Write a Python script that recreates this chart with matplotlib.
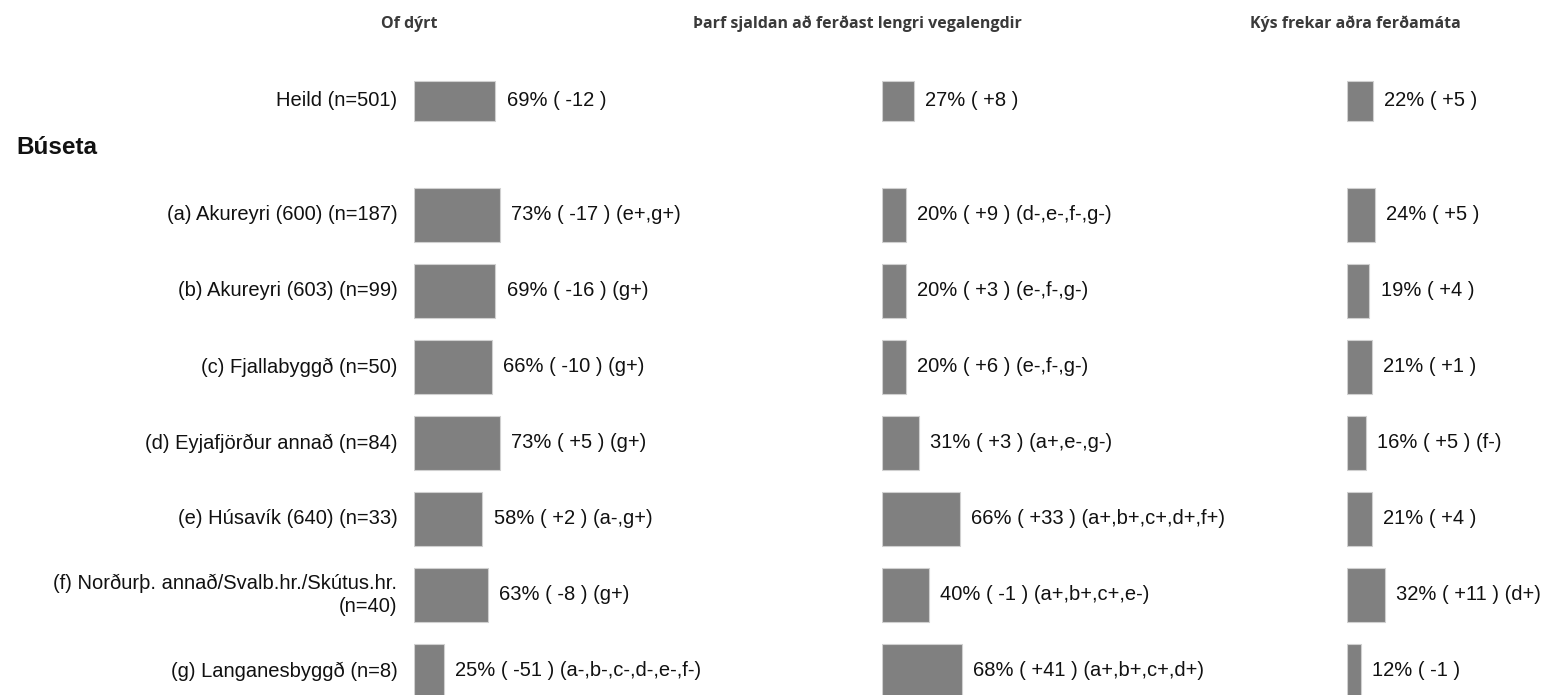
import matplotlib
matplotlib.use('Agg')
import matplotlib.pyplot as plt

plt.rcParams['font.family'] = ['Liberation Sans', 'DejaVu Sans']

# data
row_labels = ['Heild (n=501)',
              '(a) Akureyri (600) (n=187)',
              '(b) Akureyri (603) (n=99)',
              '(c) Fjallabyggð (n=50)',
              '(d) Eyjafjörður annað (n=84)',
              '(e) Húsavík (640) (n=33)',
              '(f) Norðurþ. annað/Svalb.hr./Skútus.hr.\n(n=40)',
              '(g) Langanesbyggð (n=8)']
group_title = 'Búseta'
panel_titles = ['Of dýrt',
                'Þarf sjaldan að ferðast lengri vegalengdir',
                'Kýs frekar aðra ferðamáta']

pct_dyrt = [69, 73, 69, 66, 73, 58, 63, 25]
chg_dyrt = [-12, -17, -16, -10, 5, 2, -8, -51]
sig_dyrt = ['', 'e+,g+', 'g+', 'g+', 'g+', 'a-,g+', 'g+', 'a-,b-,c-,d-,e-,f-']

pct_sjaldan = [27, 20, 20, 20, 31, 66, 40, 68]
chg_sjaldan = [8, 9, 3, 6, 3, 33, -1, 41]
sig_sjaldan = ['', 'd-,e-,f-,g-', 'e-,f-,g-', 'e-,f-,g-', 'a+,e-,g-',
               'a+,b+,c+,d+,f+', 'a+,b+,c+,e-', 'a+,b+,c+,d+']

pct_annad = [22, 24, 19, 21, 16, 21, 32, 12]
chg_annad = [5, 5, 4, 1, 5, 4, 11, -1]
sig_annad = ['', '', '', '', 'f-', '', 'd+', '']

panels = [(pct_dyrt, chg_dyrt, sig_dyrt),
          (pct_sjaldan, chg_sjaldan, sig_sjaldan),
          (pct_annad, chg_annad, sig_annad)]

# row positions: Heild sits above the group
ypos = [-1.5, 0, 1, 2, 3, 4, 5, 6]
heights = [0.53] + [0.71] * 7

W, H = 1542, 695
fig = plt.figure(figsize=(W / 100, H / 100), dpi=100)

# layout (pixels)
bar_left = [414, 882, 1347]
px_per_pct = 1.18
row0_px = 215      # centre of row (a)
row_step = 76
top_px = 63
ymin_val = (top_px - row0_px) / row_step
ymax_val = (H - row0_px) / row_step
title_x = [409, 857, 1355]


def fmt(p, c, s):
    t = '%d%% ( %+d )' % (p, c)
    if s:
        t += ' (%s)' % s
    return t


axes = []
for i, (pcts, chgs, sigs) in enumerate(panels):
    ax = fig.add_axes([bar_left[i] / W, 0, 100 * px_per_pct / W, (H - top_px) / H])
    ax.set_xlim(0, 100)
    ax.set_ylim(ymax_val, ymin_val)
    ax.barh(ypos, pcts, height=heights, color='#808080',
            edgecolor='#d0d0d0', linewidth=0.8)
    for y, p, c, s in zip(ypos, pcts, chgs, sigs):
        ax.annotate(fmt(p, c, s), (p, y), xytext=(8, 0), textcoords='offset points',
                    ha='left', va='center', fontsize=14.5, color='#111111')
    ax.axis('off')
    axes.append(ax)
    fig.text(title_x[i] / W, 1 - 24 / H, panel_titles[i], ha='center', va='center',
             fontsize=11.5, fontweight='bold', family=['Open Sans', 'DejaVu Sans'],
             color='#3a3a3a')

# row labels to the left of first panel
ax0 = axes[0]
for y, lab in zip(ypos, row_labels):
    ax0.annotate(lab, (0, y), xytext=(-12, 0), textcoords='offset points',
                 ha='right', va='center', multialignment='right',
                 fontsize=14.5, color='#111111', linespacing=1.3)

ax0.annotate(group_title, (0, -0.89), xycoords=('figure fraction', 'data'),
             xytext=(12, 0), textcoords='offset points', ha='left', va='center',
             fontsize=17.5, fontweight='bold', color='#111111')

fig.savefig('out.png', dpi=100)
